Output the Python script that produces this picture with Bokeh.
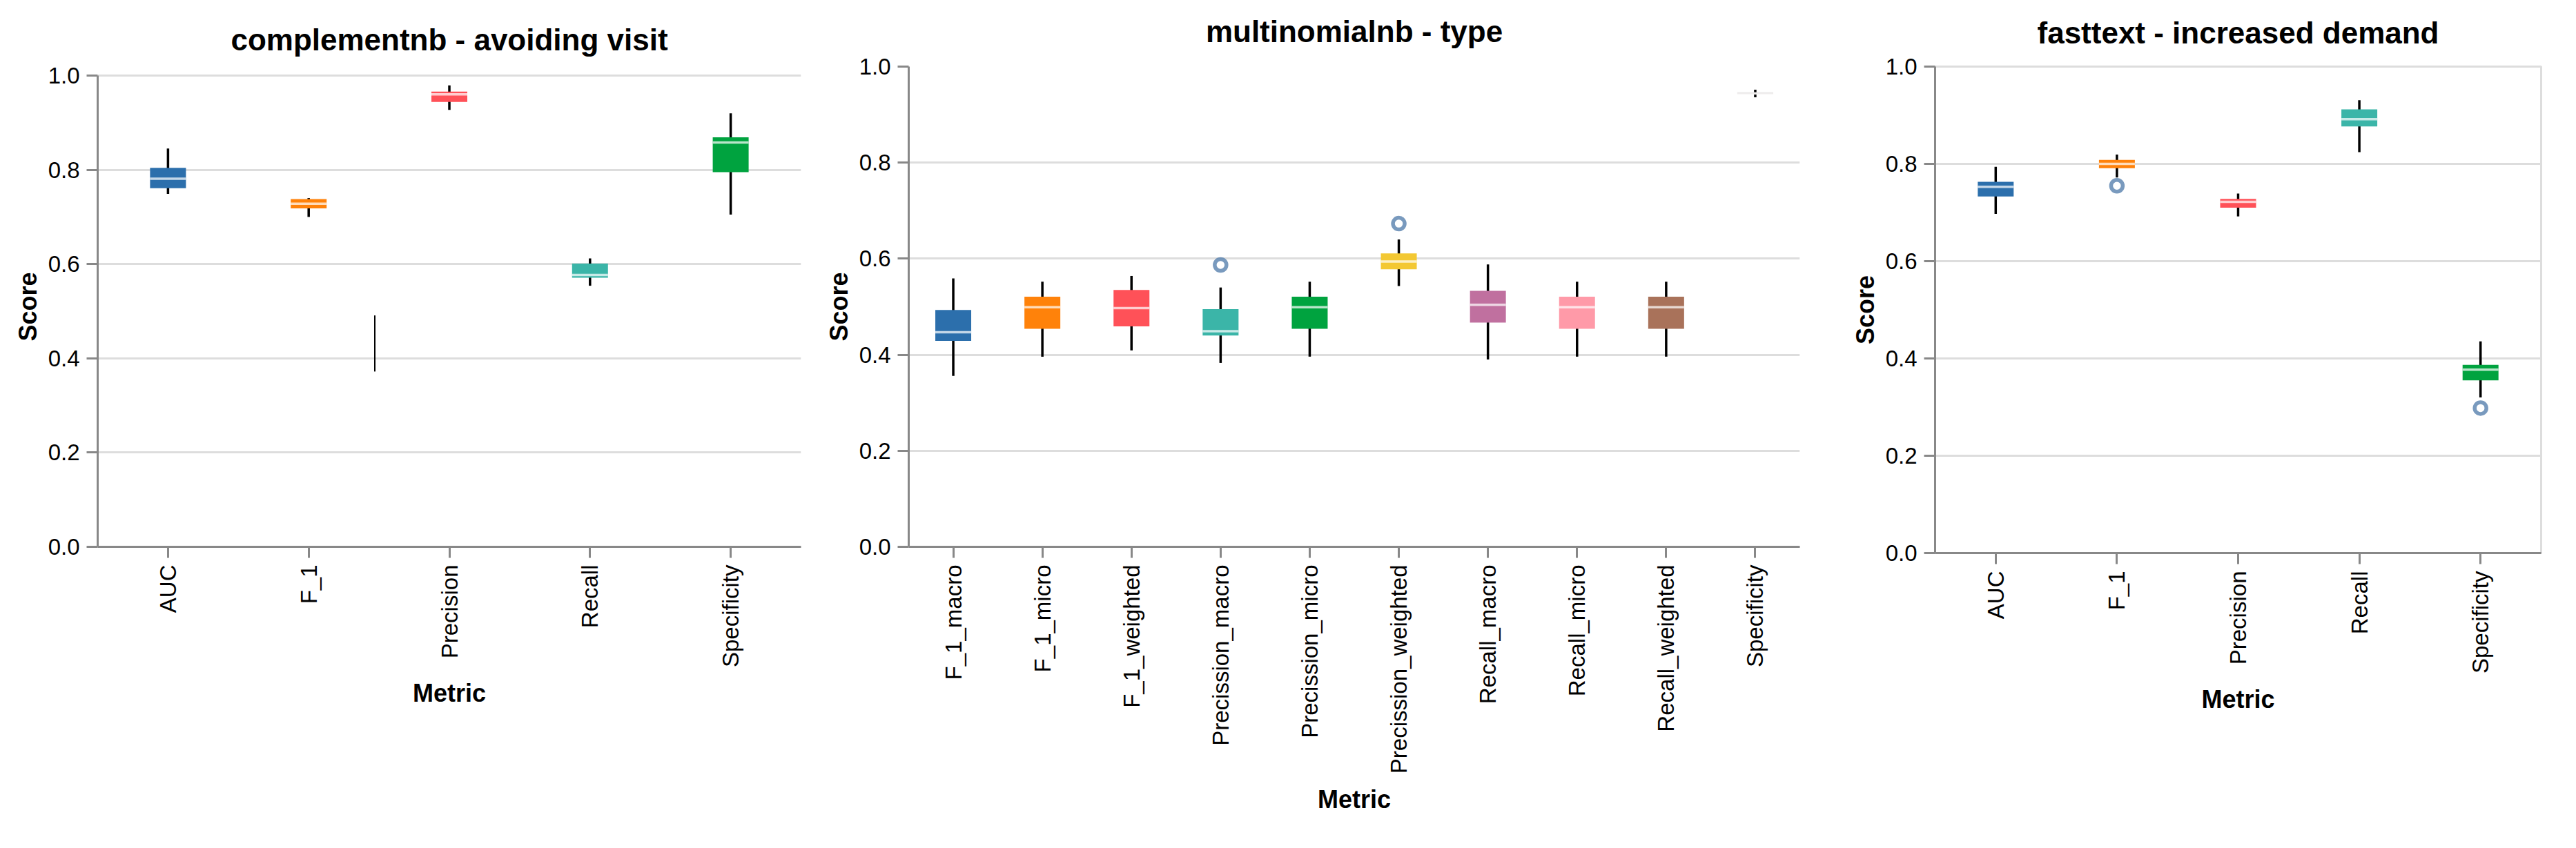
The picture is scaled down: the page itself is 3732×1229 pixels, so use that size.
import math
from bokeh.plotting import figure
from bokeh.models import (Range1d, FactorRange, FixedTicker, PrintfTickFormatter,
                          ColumnDataSource)
from bokeh.layouts import row
from bokeh.embed import file_html
from bokeh.resources import INLINE

FONT = "Liberation Sans"

# ---------------- data ----------------
# Panel 1: complementnb - avoiding visit
cnb_title = "complementnb - avoiding visit"
cnb_metrics = ["AUC", "F_1", "Precision", "Recall", "Specificity"]
cnb_whisker_low = [0.749, 0.700, 0.927, 0.554, 0.705]
cnb_q1 = [0.761, 0.718, 0.944, 0.571, 0.795]
cnb_median = [0.781, 0.728, 0.960, 0.577, 0.858]
cnb_q3 = [0.804, 0.738, 0.966, 0.601, 0.869]
cnb_whisker_high = [0.845, 0.740, 0.979, 0.612, 0.920]
cnb_outlier_metric = []
cnb_outlier_value = []
# stray whisker drawn between F_1 and Precision
cnb_stray_after = ["F_1"]
cnb_stray_offset = [0.47]
cnb_stray_low = [0.372]
cnb_stray_high = [0.491]

# Panel 2: multinomialnb - type
mnb_title = "multinomialnb - type"
mnb_metrics = ["F_1_macro", "F_1_micro", "F_1_weighted", "Precission_macro",
               "Precission_micro", "Precission_weighted", "Recall_macro",
               "Recall_micro", "Recall_weighted", "Specificity"]
mnb_whisker_low = [0.356, 0.396, 0.409, 0.383, 0.396, 0.543, 0.390, 0.396, 0.396, 0.936]
mnb_q1 = [0.429, 0.454, 0.459, 0.440, 0.454, 0.578, 0.467, 0.454, 0.454, 0.9425]
mnb_median = [0.447, 0.499, 0.497, 0.449, 0.499, 0.594, 0.504, 0.499, 0.499, 0.944]
mnb_q3 = [0.493, 0.521, 0.535, 0.495, 0.521, 0.611, 0.533, 0.521, 0.521, 0.9465]
mnb_whisker_high = [0.559, 0.552, 0.564, 0.540, 0.552, 0.640, 0.588, 0.552, 0.552, 0.952]
mnb_outlier_metric = ["Precission_macro", "Precission_weighted"]
mnb_outlier_value = [0.587, 0.673]

# Panel 3: fasttext - increased demand
ft_title = "fasttext - increased demand"
ft_metrics = ["AUC", "F_1", "Precision", "Recall", "Specificity"]
ft_whisker_low = [0.697, 0.772, 0.692, 0.824, 0.320]
ft_q1 = [0.733, 0.791, 0.710, 0.877, 0.355]
ft_median = [0.753, 0.800, 0.722, 0.892, 0.377]
ft_q3 = [0.763, 0.808, 0.728, 0.912, 0.387]
ft_whisker_high = [0.794, 0.819, 0.739, 0.931, 0.435]
ft_outlier_metric = ["F_1", "Specificity"]
ft_outlier_value = [0.755, 0.298]

y_ticks = [0.0, 0.2, 0.4, 0.6, 0.8, 1.0]

PALETTE = ["#2c6fac", "#ff820a", "#ff5158", "#3bb5a8", "#00a33f",
           "#f3c833", "#c0709f", "#ff9aa8", "#a9725a", "#c4bebe"]


def make_panel(title, metrics, wl, q1, med, q3, wh, om, ov,
               frame_w, frame_h, y_end, b_left, b_right, b_top, b_bottom,
               title_standoff, outline=False):
    p = figure(x_range=FactorRange(factors=metrics), y_range=Range1d(0, y_end),
               frame_width=frame_w, frame_height=frame_h,
               min_border_left=b_left, min_border_right=b_right,
               min_border_top=b_top, min_border_bottom=b_bottom,
               output_backend="svg", toolbar_location=None,
               background_fill_color="white", border_fill_color="white")
    p.title.text = title
    p.title.text_font = FONT
    p.title.text_font_size = "44px"
    p.title.text_font_style = "bold"
    p.title.text_color = "#000000"
    p.title.align = "center"
    p.title.vertical_align = "top"
    p.title.standoff = title_standoff

    colors = PALETTE[:len(metrics)]
    src = ColumnDataSource(dict(
        m=metrics, wl=wl, wh=wh,
        mid=[(a + b) / 2 for a, b in zip(q1, q3)],
        h=[b - a for a, b in zip(q1, q3)],
        med=med, color=colors))

    p.segment(x0="m", y0="wl", x1="m", y1="wh", source=src,
              line_color="#000000", line_width=3.5)
    p.rect(x="m", y="mid", width=52, height="h", width_units="screen",
           source=src, fill_color="color", line_color=None)
    p.rect(x="m", y="med", width=52, height=3.5, width_units="screen",
           height_units="screen", source=src, fill_color="white",
           fill_alpha=0.72, line_color=None)
    if om:
        p.scatter(x=om, y=ov, marker="circle", size=17, fill_color=None,
                  line_color="#4c78a8", line_alpha=0.75, line_width=5.5)

    for ax in (p.xaxis[0], p.yaxis[0]):
        ax.axis_line_color = "#888888"
        ax.axis_line_width = 3
        ax.major_tick_line_color = "#888888"
        ax.major_tick_line_width = 3
        ax.major_tick_out = 16
        ax.major_tick_in = 0
        ax.minor_tick_line_color = None
        ax.major_label_text_font = FONT
        ax.major_label_text_font_size = "33px"
        ax.major_label_text_color = "#000000"
        ax.major_label_standoff = 10
        ax.axis_label_text_font = FONT
        ax.axis_label_text_font_size = "36px"
        ax.axis_label_text_font_style = "bold"
        ax.axis_label_text_color = "#000000"

    p.xaxis.axis_label = "Metric"
    p.yaxis.axis_label = "Score"
    p.xaxis.major_label_orientation = math.pi / 2
    p.xaxis.axis_label_standoff = 14
    p.yaxis.axis_label_standoff = 6
    p.yaxis.ticker = FixedTicker(ticks=y_ticks)
    p.yaxis.formatter = PrintfTickFormatter(format="%.1f")
    p.yaxis.bounds = (0, 1)

    p.xgrid.grid_line_color = None
    p.ygrid.grid_line_color = "#dddddd"
    p.ygrid.grid_line_width = 3
    p.ygrid.ticker = FixedTicker(ticks=y_ticks)
    if outline:
        p.outline_line_color = "#dddddd"
        p.outline_line_width = 3
    else:
        p.outline_line_color = None
    return p


p1 = make_panel(cnb_title, cnb_metrics, cnb_whisker_low, cnb_q1, cnb_median,
                cnb_q3, cnb_whisker_high, cnb_outlier_metric, cnb_outlier_value,
                frame_w=1019, frame_h=696, y_end=696 / 683,
                b_left=141, b_right=22, b_top=116, b_bottom=408,
                title_standoff=25)
p1.segment(x0=[(a, o) for a, o in zip(cnb_stray_after, cnb_stray_offset)], y0=cnb_stray_low,
           x1=[(a, o) for a, o in zip(cnb_stray_after, cnb_stray_offset)], y1=cnb_stray_high,
           line_color="#000000", line_width=2)

p2 = make_panel(mnb_title, mnb_metrics, mnb_whisker_low, mnb_q1, mnb_median,
                mnb_q3, mnb_whisker_high, mnb_outlier_metric, mnb_outlier_value,
                frame_w=1291, frame_h=696, y_end=1.0,
                b_left=134, b_right=25, b_top=116, b_bottom=408,
                title_standoff=49)

p3 = make_panel(ft_title, ft_metrics, ft_whisker_low, ft_q1, ft_median,
                ft_q3, ft_whisker_high, ft_outlier_metric, ft_outlier_value,
                frame_w=878, frame_h=705, y_end=1.0,
                b_left=171, b_right=30, b_top=116, b_bottom=399,
                title_standoff=45, outline=True)

layout = row(p1, p2, p3, margin=(-20, 0, 0, 0))
open("out.html", "w").write(file_html(layout, INLINE))
